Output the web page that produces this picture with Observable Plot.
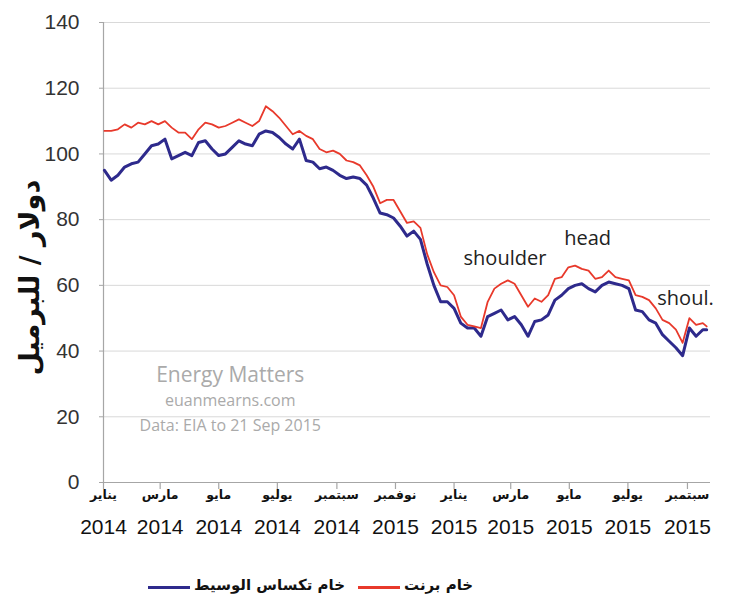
<!DOCTYPE html>
<html><head><meta charset="utf-8">
<script src="https://cdn.jsdelivr.net/npm/d3@7"></script>
<script src="https://cdn.jsdelivr.net/npm/@observablehq/plot@0.6"></script>
<style>
body{margin:0;background:#fff;}
#wrap{position:relative;width:730px;height:607px;}
#legend{position:absolute;left:0;top:560px;width:730px;height:47px;font-family:"DejaVu Sans",sans-serif;font-weight:bold;font-size:15px;color:#111;}
.ln{position:absolute;height:3px;}
.lt{position:absolute;white-space:nowrap;direction:rtl;}
</style></head>
<body><div id="wrap"><div id="chart"></div><div id="legend"></div></div>
<script>
const dates = ["2014-01-02","2014-01-09","2014-01-16","2014-01-23","2014-01-30","2014-02-06","2014-02-13","2014-02-20","2014-02-27","2014-03-06","2014-03-13","2014-03-20","2014-03-27","2014-04-03","2014-04-10","2014-04-17","2014-04-24","2014-05-01","2014-05-08","2014-05-15","2014-05-22","2014-05-29","2014-06-05","2014-06-12","2014-06-19","2014-06-26","2014-07-03","2014-07-10","2014-07-17","2014-07-24","2014-07-31","2014-08-07","2014-08-14","2014-08-21","2014-08-28","2014-09-04","2014-09-11","2014-09-18","2014-09-25","2014-10-02","2014-10-09","2014-10-16","2014-10-23","2014-10-30","2014-11-06","2014-11-13","2014-11-20","2014-11-27","2014-12-04","2014-12-11","2014-12-18","2014-12-25","2015-01-01","2015-01-08","2015-01-15","2015-01-22","2015-01-29","2015-02-05","2015-02-12","2015-02-19","2015-02-26","2015-03-05","2015-03-12","2015-03-19","2015-03-26","2015-04-02","2015-04-09","2015-04-16","2015-04-23","2015-04-30","2015-05-07","2015-05-14","2015-05-21","2015-05-28","2015-06-04","2015-06-11","2015-06-18","2015-06-25","2015-07-02","2015-07-09","2015-07-16","2015-07-23","2015-07-30","2015-08-06","2015-08-13","2015-08-20","2015-08-27","2015-09-03","2015-09-10","2015-09-17","2015-09-21"];
const brent = [107,107,107.5,109,108,109.5,109,110,109,110,108,106.5,106.5,104.5,107.5,109.5,109,108,108.5,109.5,110.5,109.5,108.5,110,114.5,113,111,108.5,106,107,105.5,104.5,101.5,100.5,101,100,98,97.5,96.5,93.5,90,85,86,86,82.5,79,79.5,77.5,69.5,64,60,59.5,57,50.5,48,47.5,47,55,59,60.5,61.5,60.5,57,53.5,56,55,57,62,62.5,65.5,66,65,64.5,62,62.5,64.5,62.5,62,61.5,57,56.5,55.5,53,49.5,48.5,46.5,42.5,50,48,48.5,47.5];
const wti = [95,92,93.5,96,97,97.5,100,102.5,103,104.5,98.5,99.5,100.5,99.5,103.5,104,101.5,99.5,100,102,104,103,102.5,106,107,106.5,105,103,101.5,104.5,98,97.5,95.5,96,95,93.5,92.5,93,92.5,90.5,86.5,82,81.5,80.5,78,75,76.5,74,66.5,60,55,55,53,48.5,47,47,44.5,50.5,51.5,52.5,49.5,50.5,48,44.5,49,49.5,51,55.5,57,59,60,60.5,59,58,60,61,60.5,60,59,52.5,52,49.5,48.5,45,43,41,38.6,47,44.5,46.5,46.5];
const seriesNames = ["خام برنت","خام تكساس الوسيط"];
const seriesColors = ["#e8392b","#2e2a8c"];
const tickDates = ["2014-01-01","2014-03-01","2014-05-01","2014-07-01","2014-09-01","2014-11-01","2015-01-01","2015-03-01","2015-05-01","2015-07-01","2015-09-01"];
const tickMonths = ["يناير","مارس","مايو","يوليو","سبتمبر","نوفمبر","يناير","مارس","مايو","يوليو","سبتمبر"];
const tickYears = ["2014","2014","2014","2014","2014","2015","2015","2015","2015","2015","2015"];
const yTicks = [0,20,40,60,80,100,120,140];
const yTitle = "دولار / للبرميل";
const notes = [
  {date:"2015-02-23", v:68.2, text:"shoulder"},
  {date:"2015-05-20", v:74.3, text:"head"},
  {date:"2015-08-30", v:56, text:"shoul."}
];
const watermark = [
  {date:"2014-05-13", v:32.6, text:"Energy Matters", size:21},
  {date:"2014-05-13", v:24.7, text:"euanmearns.com", size:16},
  {date:"2014-05-13", v:17.3, text:"Data: EIA to 21 Sep 2015", size:16}
];

const P = d3.utcParse("%Y-%m-%d");
const start = P("2014-01-01");
const rows = dates.map((d,i)=>({date:P(d), brent:brent[i], wti:wti[i]}));
const ticks = tickDates.map((d,i)=>({date:P(d), m:tickMonths[i], y:tickYears[i]}));

const chart = Plot.plot({
  width:730, height:560,
  marginLeft:103, marginRight:20, marginTop:22, marginBottom:78,
  style:{fontFamily:"Liberation Sans, Arial, sans-serif", background:"#fff"},
  x:{type:"utc", domain:[start, P("2015-09-25")], axis:null},
  y:{domain:[0,140], axis:null},
  marks:[
    Plot.ruleY(yTicks, {y:d=>d, stroke:"#d9d9d9", strokeWidth:1}),
    Plot.ruleY([0], {stroke:"#a6a6a6", strokeWidth:1.2}),
    Plot.ruleX([start], {y1:0, y2:140, stroke:"#a6a6a6", strokeWidth:1.2}),
    Plot.ruleY(yTicks, {y:d=>d, x1:start, x2:start, insetLeft:-4, stroke:"#a6a6a6"}),
    Plot.text(yTicks, {y:d=>d, frameAnchor:"left", dx:-24, text:d=>String(d), textAnchor:"end", fontSize:21, fill:"#333"}),
    Plot.ruleX(ticks, {x:"date", y1:0, y2:0, insetBottom:-7, stroke:"#a6a6a6", strokeWidth:1.2}),
    Plot.text(ticks, {x:"date", frameAnchor:"bottom", dy:16, text:"m", fontSize:12.5, fontWeight:"bold", fontFamily:"DejaVu Sans", fill:"#111"}),
    Plot.text(ticks, {x:"date", frameAnchor:"bottom", dy:51, text:"y", fontSize:21, fill:"#111"}),
    Plot.text([yTitle], {frameAnchor:"left", dx:-73, dy:123, rotate:-90, text:d=>d, fontSize:27, fontWeight:"bold", fontFamily:"DejaVu Sans", fill:"#111"}),
    Plot.text(watermark, {x:d=>P(d.date), y:"v", text:"text", fontSize:d=>d.size, fill:"#aaaaaa", fontFamily:"Open Sans"}),
    Plot.lineY(rows, {x:"date", y:"wti", stroke:seriesColors[1], strokeWidth:3}),
    Plot.lineY(rows, {x:"date", y:"brent", stroke:seriesColors[0], strokeWidth:1.8}),
    Plot.text(notes, {x:d=>P(d.date), y:"v", text:"text", fontSize:20, fill:"#222", fontFamily:"Open Sans"})
  ]
});
document.getElementById("chart").appendChild(chart);

const lg = document.getElementById("legend");
lg.innerHTML = `
  <div class="ln" style="left:148px;top:26px;width:42px;background:${seriesColors[1]}"></div>
  <div class="lt" style="left:194px;top:16px;">${seriesNames[1]}</div>
  <div class="ln" style="left:358px;top:26px;width:42px;background:${seriesColors[0]}"></div>
  <div class="lt" style="left:404px;top:16px;">${seriesNames[0]}</div>`;
</script></body></html>
